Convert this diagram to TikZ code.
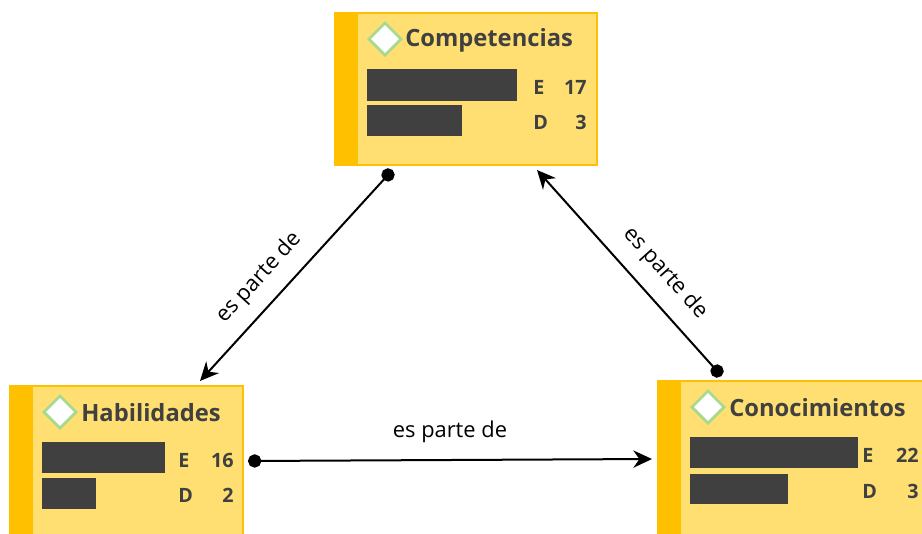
\documentclass[tikz,border=0pt]{standalone}
\usepackage{fontspec}
\setmainfont{Open Sans}
\usepackage{tikz}
\usetikzlibrary{arrows.meta,shapes.geometric}
\definecolor{relleno}{HTML}{FFDF71}
\definecolor{borde}{HTML}{FFC000}
\definecolor{verde}{HTML}{A9D98E}
\definecolor{oscuro}{HTML}{404040}
\tikzset{
  caja/.style={draw=borde, fill=relleno, line width=1.5pt, anchor=north west, outer sep=0pt, inner sep=0pt},
  franja/.style={fill=borde, anchor=north west, outer sep=0pt, inner sep=0pt, minimum width=18pt},
  rombo/.style={diamond, draw=verde, fill=white, line width=2pt, minimum width=25pt, minimum height=25pt, inner sep=0pt},
  titulo/.style={anchor=west, text=oscuro, font=\fontsize{17.8pt}{20pt}\selectfont\bfseries, inner sep=0pt},
  barra/.style={fill=oscuro, anchor=north west, outer sep=0pt, inner sep=0pt},
  letra/.style={anchor=west, text=oscuro, font=\fontsize{14.8pt}{17pt}\selectfont\bfseries, inner sep=0pt},
  cifra/.style={anchor=east, text=oscuro, font=\fontsize{14.8pt}{17pt}\selectfont\bfseries, inner sep=0pt},
  rel/.style={font=\fontsize{16.4pt}{18pt}\selectfont, text=black, inner sep=0pt},
  flecha/.style={{Circle[length=10pt]}-{Stealth[length=14pt,width=13pt]}, line width=1.5pt}
}
\begin{document}
\begin{tikzpicture}[x=0.75pt,y=-0.75pt]
  \useasboundingbox (0,0) rectangle (922,533);
  \clip (0,0) rectangle (922,533);
  % Competencias
  \node[caja, minimum width=196.5pt, minimum height=114pt] (C) at (335,13) {};
  \node[franja, minimum height=115.5pt] (Cf) at (334,12) {};
  \node[rombo] (Cr) at (385,39) {};
  \node[titulo] (Ct) at (405,40) {Competencias};
  \node[barra, minimum width=112.5pt, minimum height=24pt] (Cb1) at (367,69) {};
  \node[barra, minimum width=71.25pt, minimum height=23.25pt] (Cb2) at (367,105) {};
  \node[letra] (CE) at (533,87) {E};
  \node[cifra] (CEn) at (587,87) {17};
  \node[letra] (CD) at (533,122) {D};
  \node[cifra] (CDn) at (587,122) {3};
  % Habilidades
  \node[caja, minimum width=174.75pt, minimum height=120pt] (H) at (10,386) {};
  \node[franja, minimum height=120pt] (Hf) at (9,385) {};
  \node[rombo] (Hr) at (60,412) {};
  \node[titulo] (Ht) at (81,413) {Habilidades};
  \node[barra, minimum width=92.25pt, minimum height=23.25pt] (Hb1) at (42,442) {};
  \node[barra, minimum width=40.5pt, minimum height=23.25pt] (Hb2) at (42,478) {};
  \node[letra] (HE) at (178,460) {E};
  \node[cifra] (HEn) at (234,460) {16};
  \node[letra] (HD) at (178,495) {D};
  \node[cifra] (HDn) at (234,495) {2};
  % Conocimientos
  \node[caja, minimum width=210pt, minimum height=120pt] (K) at (658,381) {};
  \node[franja, minimum height=120pt] (Kf) at (657,380) {};
  \node[rombo] (Kr) at (708,407) {};
  \node[titulo] (Kt) at (729,408) {Conocimientos};
  \node[barra, minimum width=126pt, minimum height=23.25pt] (Kb1) at (690,437) {};
  \node[barra, minimum width=73.5pt, minimum height=22.5pt] (Kb2) at (690,474) {};
  \node[letra] (KE) at (862,455) {E};
  \node[cifra] (KEn) at (919,455) {22};
  \node[letra] (KD) at (862,491) {D};
  \node[cifra] (KDn) at (919,491) {3};
  % extremos de las relaciones
  \coordinate (a1) at (392.5,170);
  \coordinate (a2) at (200,381);
  \coordinate (b1) at (721.5,376);
  \coordinate (b2) at (537,170);
  \coordinate (c1) at (248,461);
  \coordinate (c2) at (652,459);
  \draw[flecha] (a1) -- (a2);
  \draw[flecha] (b1) -- (b2);
  \draw[flecha] (c1) -- (c2);
  \node[rel, rotate=47.6] (ra) at (259,278) {es parte de};
  \node[rel, rotate=-48] (rb) at (665,273) {es parte de};
  \node[rel] (rc) at (450,432) {es parte de};
\end{tikzpicture}
\end{document}
